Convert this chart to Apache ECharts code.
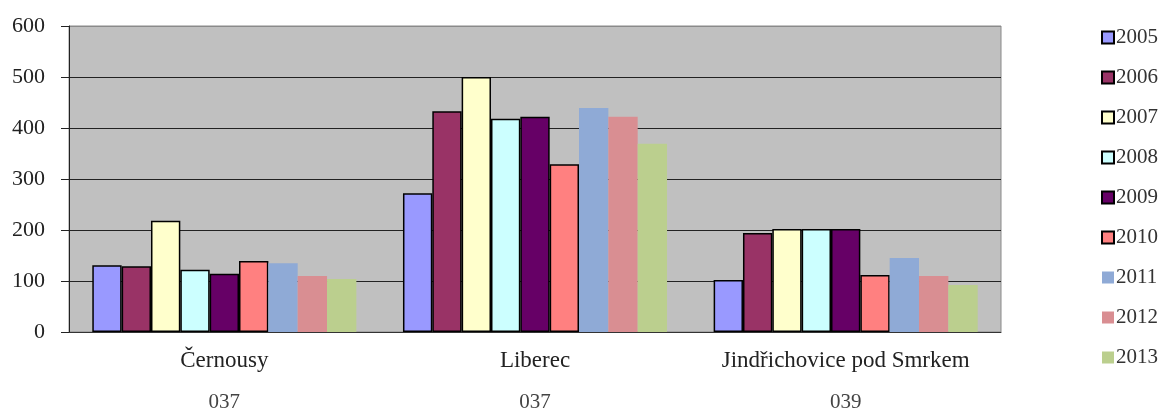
<!DOCTYPE html>
<html>
<head>
<meta charset="utf-8">
<script src="https://cdn.jsdelivr.net/npm/echarts@6/dist/echarts.min.js"></script>
<style>
  html, body { margin: 0; padding: 0; background: #fff; }
  #chart { width: 1164px; height: 417px; }
</style>
</head>
<body>
<div id="chart"></div>
<script>
// obce a kódy (spodní řádek popisků)
const places = ["Černousy", "Liberec", "Jindřichovice pod Smrkem"];
const codes = ["037", "037", "039"];
const years = ["2005", "2006", "2007", "2008", "2009", "2010", "2011", "2012", "2013"];
const yTicks = [0, 100, 200, 300, 400, 500, 600];

// hodnoty po letech (Černousy, Liberec, Jindřichovice)
const v2005 = [131, 272, 102];
const v2006 = [129, 433, 194];
const v2007 = [218, 500, 202];
const v2008 = [122, 418, 202];
const v2009 = [114, 422, 202];
const v2010 = [139, 329, 112];
const v2011 = [135, 439, 145];
const v2012 = [110, 422, 110];
const v2013 = [104, 369, 92];

const values = [v2005, v2006, v2007, v2008, v2009, v2010, v2011, v2012, v2013];
const colors = ["#9999FF", "#993366", "#FFFFCC", "#CCFFFF", "#660066", "#FF8080", "#8FAAD6", "#D98E92", "#BBCF8E"];
const outlined = [true, true, true, true, true, true, false, false, false];

const FONT = "'Liberation Serif', 'DejaVu Serif', serif";

const chart = echarts.init(document.getElementById("chart"));

const series = years.map((y, i) => ({
  name: y,
  type: "bar",
  data: values[i],
  barGap: "0%",
  barCategoryGap: "15%",
  itemStyle: {
    color: colors[i],
    borderColor: outlined[i] ? "#000" : colors[i],
    borderWidth: outlined[i] ? 1.5 : 0,
  },
}));

chart.setOption({
  animation: false,
  textStyle: { fontFamily: FONT },
  grid: {
    left: 69,
    right: 163,
    top: 26,
    bottom: 85,
    show: true,
    backgroundColor: "#C0C0C0",
    borderColor: "#8a8a8a",
    borderWidth: 1,
  },
  legend: {
    orient: "vertical",
    left: 1096,
    top: 22,
    itemWidth: 12,
    itemHeight: 12,
    itemGap: 19,
    icon: "rect",
    data: years,
    textStyle: { fontFamily: FONT, fontSize: 21, color: "#333", padding: [0, 0, 0, -3] },
  },
  xAxis: [
    {
      type: "category",
      data: places,
      axisLine: { lineStyle: { color: "#333", width: 1 } },
      axisTick: { show: false },
      axisLabel: { interval: 0, fontFamily: FONT, fontSize: 23, color: "#222", margin: 17 },
    },
    {
      type: "category",
      data: codes,
      position: "bottom",
      offset: 44,
      axisLine: { show: false },
      axisTick: { show: false },
      axisLabel: { interval: 0, fontFamily: FONT, fontSize: 21, color: "#444", margin: 16 },
    },
  ],
  yAxis: {
    type: "value",
    min: yTicks[0],
    max: yTicks[yTicks.length - 1],
    interval: 100,
    axisLine: { show: true, lineStyle: { color: "#222", width: 1 } },
    axisTick: { show: true, length: 8, lineStyle: { color: "#222" } },
    axisLabel: { fontFamily: FONT, fontSize: 22, color: "#222", margin: 24 },
    splitLine: {
      show: true,
      lineStyle: { color: ["#222", "#222", "#222", "#222", "#222", "#222", "#8a8a8a"], width: 1 },
    },
  },
  series: series,
});
</script>
</body>
</html>
